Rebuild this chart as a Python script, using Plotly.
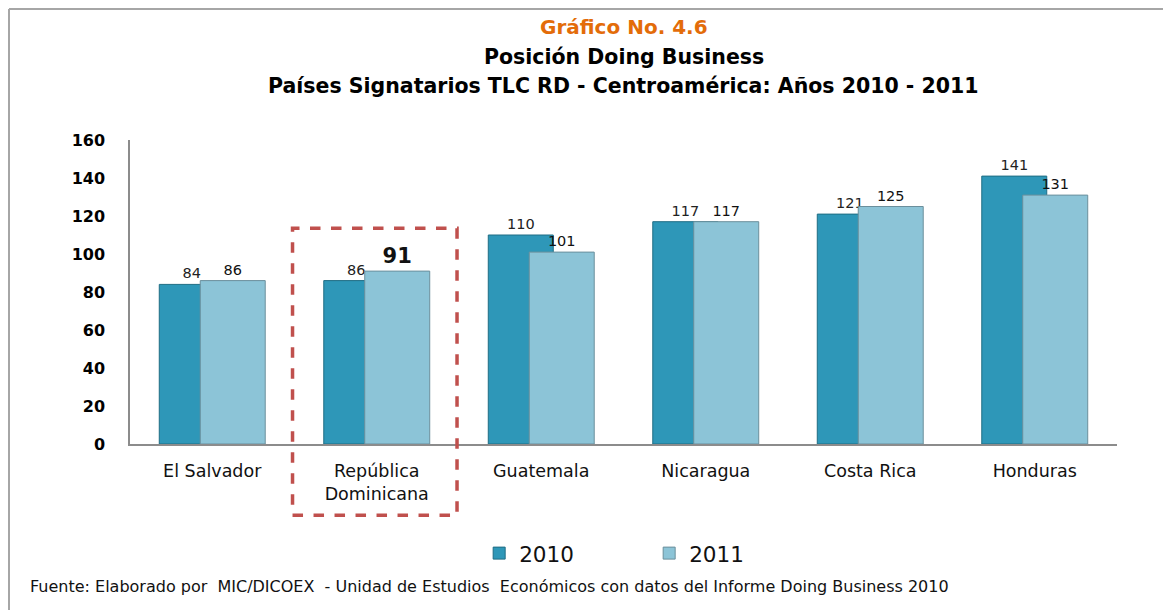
import plotly.graph_objects as go

countries = ["El Salvador", "República<br>Dominicana", "Guatemala", "Nicaragua", "Costa Rica", "Honduras"]
values_2010 = [84, 86, 110, 117, 121, 141]
values_2011 = [86, 91, 101, 117, 125, 131]
series_names = ["2010", "2011"]
y_ticks = [0, 20, 40, 60, 80, 100, 120, 140, 160]
highlight = "República<br>Dominicana"

title_1 = "Gráfico No. 4.6"
title_2 = "Posición Doing Business"
title_3 = "Países Signatarios TLC RD - Centroamérica: Años 2010 - 2011"
source = "Fuente: Elaborado por  MIC/DICOEX  - Unidad de Estudios  Económicos con datos del Informe Doing Business 2010"

BAR_W = 0.395
FONT = "DejaVu Sans"

def labels(vals, bold_hl):
    out = []
    for c, v in zip(countries, vals):
        if bold_hl and c == highlight:
            out.append(f"<b>{v}</b>")
        else:
            out.append(str(v))
    return out

sizes_2011 = [21 if c == highlight else 14.5 for c in countries]

fig = go.Figure()
fig.add_trace(go.Bar(
    x=countries, y=values_2010, name=series_names[0],
    width=BAR_W, offset=-0.322,
    marker=dict(color="#2e97b8", line=dict(color="#1f6d84", width=1)),
    text=labels(values_2010, False), textposition="outside",
    textfont=dict(family=FONT, size=14.5, color="#222"),
    cliponaxis=False,
))
fig.add_trace(go.Bar(
    x=countries, y=values_2011, name=series_names[1],
    width=BAR_W, offset=-0.073,
    marker=dict(color="#8cc4d7", line=dict(color="#6b8f9c", width=1)),
    text=labels(values_2011, True), textposition="outside",
    textfont=dict(family=FONT, size=sizes_2011, color="#111"),
    cliponaxis=False,
))

n = len(countries)
i_hl = countries.index(highlight)

shapes = [
    dict(type="rect", xref="x domain", yref="y domain",
         x0=i_hl / n - 0.002, x1=(i_hl + 1) / n - 0.002, y0=-0.234, y1=0.71,
         line=dict(color="#c0504d", width=3.5, dash="dash"), fillcolor="rgba(0,0,0,0)"),
    # outer frame, top and left edges
    dict(type="line", xref="paper", yref="paper", x0=-0.1226, x1=1.1, y0=1.4309, y1=1.4309,
         line=dict(color="#a6a6a6", width=2)),
    dict(type="line", xref="paper", yref="paper", x0=-0.1226, x1=-0.1226, y0=-0.6, y1=1.4309,
         line=dict(color="#a6a6a6", width=2)),
]

annotations = [
    dict(text=f"<b>{title_1}</b>", xref="paper", yref="paper", x=0.5, y=1.372,
         yanchor="middle", showarrow=False, font=dict(family=FONT, size=20, color="#e36c09")),
    dict(text=f"<b>{title_2}</b>", xref="paper", yref="paper", x=0.5, y=1.273,
         yanchor="middle", showarrow=False, font=dict(family=FONT, size=20.5, color="#000")),
    dict(text=f"<b>{title_3}</b>", xref="paper", yref="paper", x=0.5, y=1.178,
         yanchor="middle", showarrow=False, font=dict(family=FONT, size=20.5, color="#000")),
    dict(text=source, xref="paper", yref="paper", x=-0.1033, y=-0.470, xanchor="left",
         yanchor="middle", showarrow=False, font=dict(family=FONT, size=16, color="#111")),
]

fig.update_layout(
    width=1163, height=602,
    margin=dict(l=122, r=54, t=132, b=166),
    paper_bgcolor="white", plot_bgcolor="white",
    barmode="overlay",
    showlegend=True,
    legend=dict(orientation="h", x=0.526, xanchor="center", y=-0.359, yanchor="middle",
                font=dict(family=FONT, size=21.5, color="#111"), entrywidth=125,
                itemwidth=30),
    shapes=shapes, annotations=annotations,
    xaxis=dict(showline=True, linecolor="#8c8c8c", linewidth=1.5, showgrid=False,
               ticks="", tickfont=dict(family=FONT, size=17.5, color="#111"),
               range=[-0.5, n - 0.5], ticklabelstandoff=10),
    yaxis=dict(range=[0, 160], tickvals=y_ticks, showline=True, linecolor="#8c8c8c",
               linewidth=1.5, showgrid=False, zeroline=False, ticks="",
               tickfont=dict(family=FONT, size=16, color="#000", weight="bold"),
               ticklabelstandoff=20),
)

fig.write_html("out.html")
